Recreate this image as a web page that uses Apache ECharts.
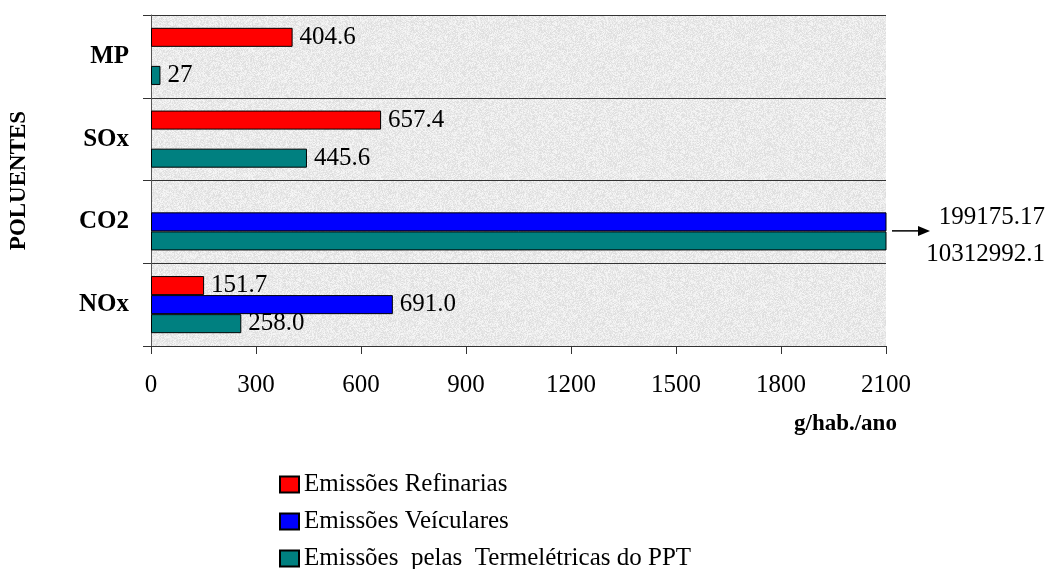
<!DOCTYPE html>
<html>
<head>
<meta charset="utf-8">
<script src="https://cdn.jsdelivr.net/npm/echarts@6/dist/echarts.min.js"></script>
<style>
  html, body { margin: 0; padding: 0; background: #fff; }
  #main { width: 1053px; height: 569px; }
</style>
</head>
<body>
<div id="main"></div>
<script>
// categories, bottom to top like the original
var poluentes = ['NOx', 'CO2', 'SOx', 'MP'];
var seriesNames = ['Emissões Refinarias', 'Emissões Veículares', 'Emissões  pelas  Termelétricas do PPT'];
// g/hab./ano
var refinarias = [151.7, null, 657.4, 404.6];
var veiculares = [691.0, 199175.17, null, null];
var termeletricas = [258.0, 10312992.1, 445.6, 27];
// labels as printed
var refinariasLbl = ['151.7', '', '657.4', '404.6'];
var veicularesLbl = ['691.0', '', '', ''];
var termeletricasLbl = ['258.0', '', '445.6', '27'];
var xTicks = [0, 2100, 300]; // min, max, interval

var serif = '"Liberation Serif", "Times New Roman", serif';

// gray "granite" fill for the plot area
function makeTexture() {
    var c = document.createElement('canvas');
    c.width = 128; c.height = 128;
    var ctx = c.getContext('2d');
    var img = ctx.createImageData(128, 128);
    var s = 12345;
    for (var i = 0; i < 128 * 128; i++) {
        s = (s * 1103515245 + 12345) & 0x7fffffff;
        var v = 222 + (s % 28);
        img.data[i * 4] = v;
        img.data[i * 4 + 1] = v;
        img.data[i * 4 + 2] = v;
        img.data[i * 4 + 3] = 255;
    }
    ctx.putImageData(img, 0, 0);
    return c;
}

function mkSeries(name, values, labels, color) {
    return {
        name: name,
        type: 'bar',
        barGap: '0%',
        barCategoryGap: '31%',
        clip: true,
        data: values.map(function (v, i) {
            return {
                value: v,
                label: { show: labels[i] !== '' }
            };
        }),
        itemStyle: { color: color, borderColor: '#000', borderWidth: 1 },
        label: {
            show: true,
            position: 'right',
            distance: 7,
            fontFamily: serif,
            fontSize: 25,
            color: '#000',
            formatter: function (p) { return labels[p.dataIndex]; }
        }
    };
}

// one legend per row so the rows stack like the original
function mkLegend(name, top) {
    return {
        orient: 'vertical',
        left: 279,
        top: top,
        padding: 0,
        itemWidth: 19,
        itemHeight: 16,
        icon: 'rect',
        textStyle: { fontFamily: serif, fontSize: 25, color: '#000' },
        data: [name]
    };
}

var mychart = echarts.init(document.getElementById('main'));
var option = {
    animation: false,
    grid: {
        left: 150,
        right: 167,
        top: 15,
        bottom: 223,
        show: true,
        borderWidth: 0,
        backgroundColor: { image: makeTexture(), repeat: 'repeat' }
    },
    legend: [
        mkLegend(seriesNames[0], 472),
        mkLegend(seriesNames[1], 509),
        mkLegend(seriesNames[2], 546)
    ],
    xAxis: {
        type: 'value',
        min: xTicks[0],
        max: xTicks[1],
        interval: xTicks[2],
        axisLine: { show: true, lineStyle: { color: '#333', width: 1 } },
        axisTick: { show: true, length: 8, lineStyle: { color: '#333' } },
        splitLine: { show: false },
        axisLabel: {
            fontFamily: serif, fontSize: 25, color: '#000', margin: 27,
            formatter: function (v) { return String(v); }
        }
    },
    yAxis: {
        type: 'category',
        data: poluentes,
        name: 'POLUENTES',
        nameLocation: 'middle',
        nameRotate: 90,
        nameGap: 120,
        nameTextStyle: { fontFamily: serif, fontSize: 23, fontWeight: 'bold', color: '#000' },
        axisLine: { show: true, lineStyle: { color: '#555', width: 1 } },
        axisTick: { show: true, length: 8, lineStyle: { color: '#333' } },
        splitLine: { show: true, lineStyle: { color: '#333', width: 1 } },
        axisLabel: { fontFamily: serif, fontSize: 25, fontWeight: 'bold', color: '#000', margin: 22 }
    },
    series: [
        mkSeries(seriesNames[0], refinarias, refinariasLbl, '#ff0000'),
        mkSeries(seriesNames[1], veiculares, veicularesLbl, '#0000ff'),
        mkSeries(seriesNames[2], termeletricas, termeletricasLbl, '#008080')
    ]
};
mychart.setOption(option);

// CO2 bars run off the scale: arrow + values outside the plot
var endX = mychart.convertToPixel({ xAxisIndex: 0 }, xTicks[1]);
var co2Y = mychart.convertToPixel({ yAxisIndex: 0 }, 'CO2');
var arrowY = co2Y + 9;
mychart.setOption({
    graphic: [
        {
            type: 'line',
            shape: { x1: endX + 6, y1: arrowY, x2: endX + 36, y2: arrowY },
            style: { stroke: '#000', lineWidth: 1.5 }
        },
        {
            type: 'polygon',
            shape: { points: [[endX + 44, arrowY], [endX + 32, arrowY - 5], [endX + 32, arrowY + 5]] },
            style: { fill: '#000' }
        },
        {
            type: 'text',
            right: 8,
            top: arrowY - 26,
            style: { text: String(veiculares[1]), font: '25px ' + serif, fill: '#000', textAlign: 'right' }
        },
        {
            type: 'text',
            right: 8,
            top: arrowY + 11,
            style: { text: String(termeletricas[1]), font: '25px ' + serif, fill: '#000', textAlign: 'right' }
        },
        {
            type: 'text',
            left: 794,
            top: 413,
            style: { text: 'g/hab./ano', font: 'bold 23px ' + serif, fill: '#000' }
        }
    ]
});
</script>
</body>
</html>
